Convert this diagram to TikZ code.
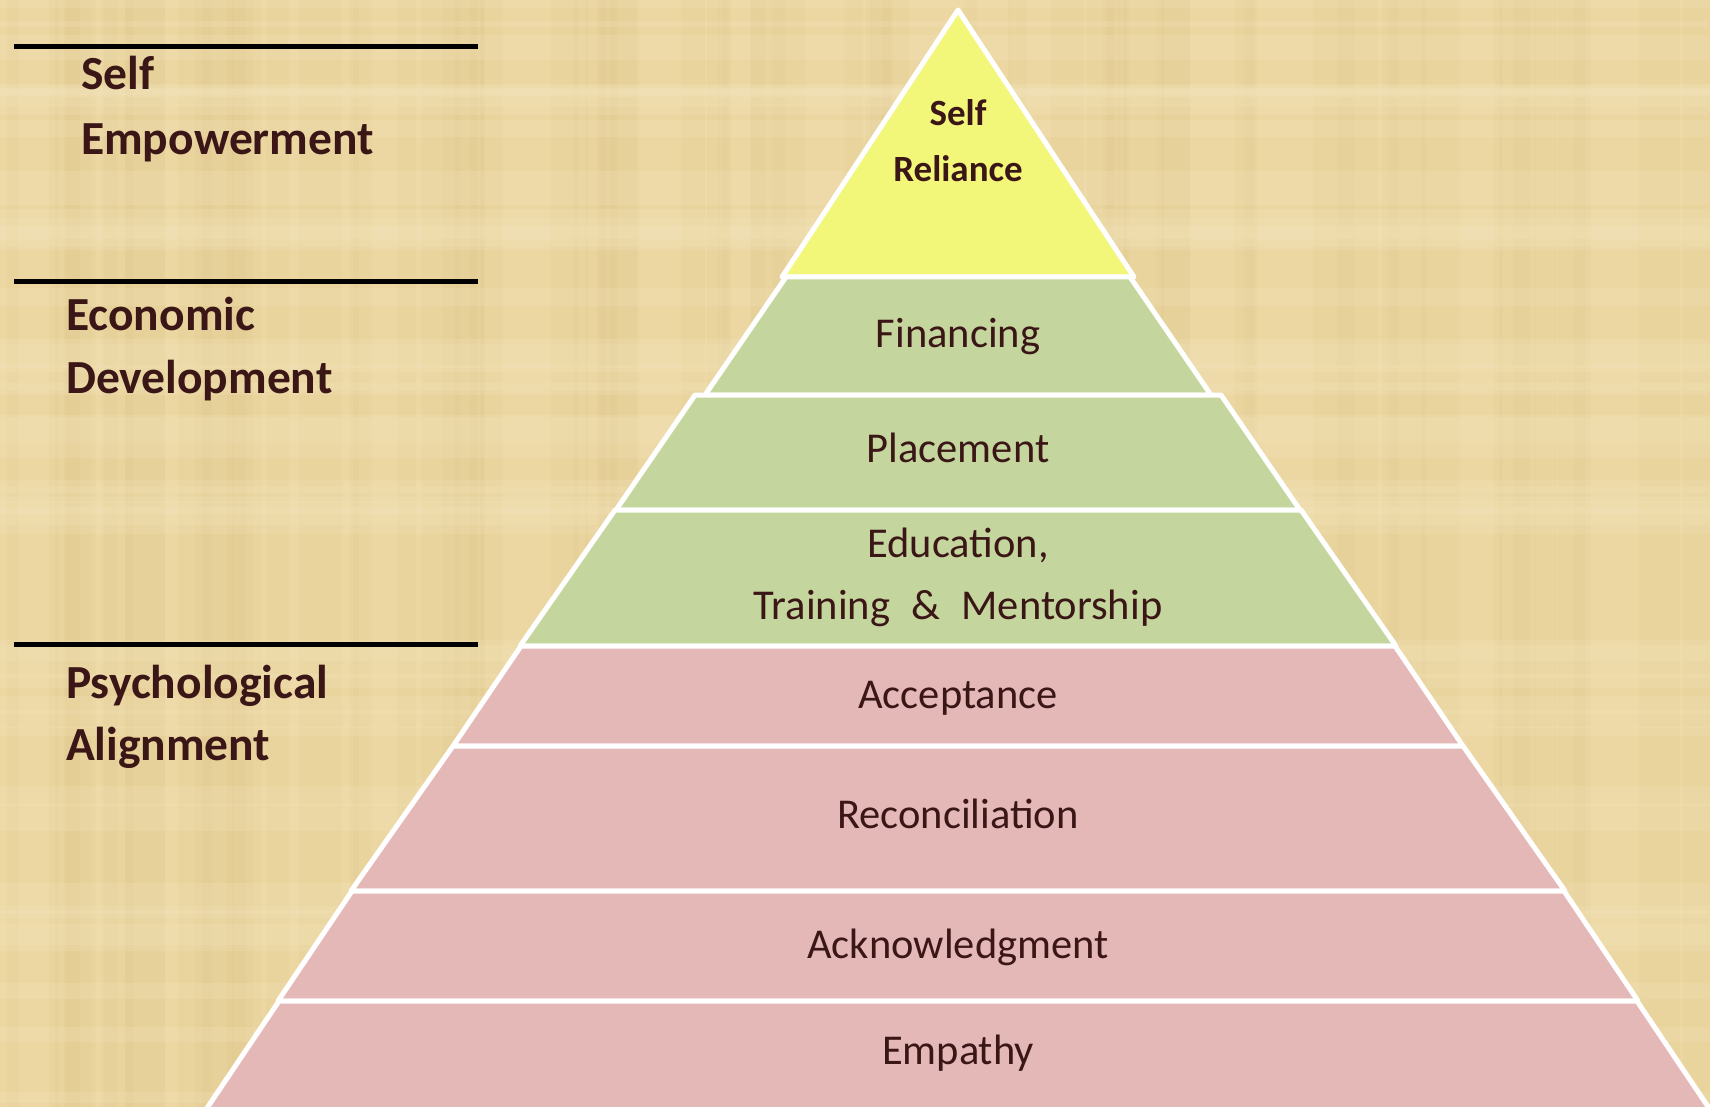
\documentclass[tikz,border=0pt]{standalone}
\usepackage{fontspec}
\setmainfont{Carlito}
\definecolor{parch}{HTML}{ECD7A2}
\definecolor{parchdark}{HTML}{D6BA7C}
\definecolor{parchlight}{HTML}{F7E9C4}
\definecolor{topyellow}{HTML}{F2F77A}
\definecolor{midgreen}{HTML}{C4D69D}
\definecolor{lowpink}{HTML}{E5B8B8}
\definecolor{ink}{HTML}{3B1616}
\tikzset{
  band/.style={draw=white, line width=5pt, line join=round},
  grouplabel/.style={anchor=base west, inner sep=0pt, text=ink, font=\fontsize{47.5}{65}\selectfont\bfseries},
  layerlabel/.style={anchor=base, inner sep=0pt, text=ink, font=\fontsize{42.5}{62}\selectfont},
  toplabel/.style={anchor=base, inner sep=0pt, text=ink, font=\fontsize{37}{56}\selectfont\bfseries},
  rule/.style={draw=black, line width=5pt}
}
\begin{document}
\begin{tikzpicture}[x=1pt,y=-1pt]
\useasboundingbox (0,0) rectangle (1710,1107);
\clip (0,0) rectangle (1710,1107);
% parchment background
\fill[parch] (0,0) rectangle (1710,1107);
\pgfmathsetseed{7}
\foreach \i in {1,...,70}{
  \pgfmathsetmacro\xx{rnd*1710}
  \pgfmathsetmacro\ww{4+rnd*40}
  \fill[parchdark, opacity=0.10] (\xx,0) rectangle ++(\ww,1107);
}
\foreach \i in {1,...,40}{
  \pgfmathsetmacro\yy{rnd*1107}
  \pgfmathsetmacro\hh{4+rnd*30}
  \fill[parchlight, opacity=0.18] (0,\yy) rectangle ++(1710,\hh);
}
% pyramid bands (centre x = 958)
\coordinate (apex) at (958,10);
\filldraw[band, fill=topyellow] (apex) -- (1134,277) -- (782,277) -- cycle;
\filldraw[band, fill=midgreen] (786,277) -- (1130,277) -- (1211,395) -- (705,395) -- cycle;
\filldraw[band, fill=midgreen] (695,395) -- (1221,395) -- (1300,510) -- (616,510) -- cycle;
\filldraw[band, fill=midgreen] (615,510) -- (1301,510) -- (1396,646) -- (520,646) -- cycle;
\filldraw[band, fill=lowpink] (521,646) -- (1395,646) -- (1463,746) -- (453,746) -- cycle;
\filldraw[band, fill=lowpink] (453,746) -- (1463,746) -- (1565,891) -- (351,891) -- cycle;
\filldraw[band, fill=lowpink] (352,891) -- (1564,891) -- (1638,1001) -- (278,1001) -- cycle;
\filldraw[band, fill=lowpink] (279,1001) -- (1637,1001) -- (1717,1120) -- (199,1120) -- cycle;
% layer labels
\node[toplabel] (selfrel) at (958,126) {Self};
\node[toplabel] (reliance) at (958,182) {Reliance};
\node[layerlabel] (fin) at (958,347) {Financing};
\node[layerlabel] (plc) at (958,462) {Placement};
\node[layerlabel] (edu1) at (958,557) {Education,};
\node[layerlabel] (edu2) at (958,619) {Training\hspace{0.5em}\&\hspace{0.5em}Mentorship};
\node[layerlabel] (acc) at (958,708) {Acceptance};
\node[layerlabel] (rec) at (958,828) {Reconciliation};
\node[layerlabel] (ack) at (958,958) {Acknowledgment};
\node[layerlabel] (emp) at (958,1064) {Empathy};
% group rules and labels
\draw[rule] (14,47) coordinate (r1a) -- (478,47) coordinate (r1b);
\draw[rule] (14,282) coordinate (r2a) -- (478,282) coordinate (r2b);
\draw[rule] (14,644) coordinate (r3a) -- (478,644) coordinate (r3b);
\node[grouplabel] (g1a) at (81,90) {Self};
\node[grouplabel] (g1b) at (81,155) {Empowerment};
\node[grouplabel] (g2a) at (66,330) {Economic};
\node[grouplabel] (g2b) at (66,393) {Development};
\node[grouplabel] (g3a) at (66,698) {Psychological};
\node[grouplabel] (g3b) at (66,760) {Alignment};
\end{tikzpicture}
\end{document}
